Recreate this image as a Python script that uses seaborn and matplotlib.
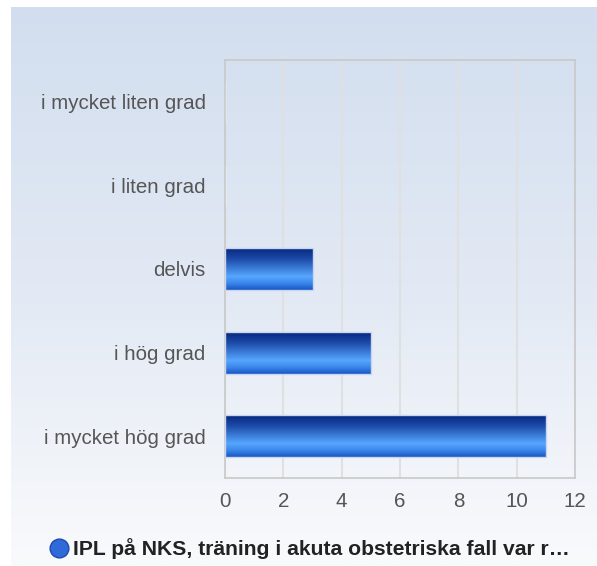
import numpy as np
import matplotlib
matplotlib.use('Agg')
import matplotlib.pyplot as plt
from matplotlib.colors import LinearSegmentedColormap
from matplotlib.lines import Line2D
import seaborn as sns

# data
categories = ['i mycket liten grad', 'i liten grad', 'delvis', 'i hög grad', 'i mycket hög grad']
counts = [0, 0, 3, 5, 11]
x_ticks = [0, 2, 4, 6, 8, 10, 12]
series_name = 'IPL på NKS, träning i akuta obstetriska fall var r…'

sns.set_theme(style='white')
plt.rcParams['font.family'] = ['Liberation Sans', 'DejaVu Sans']

W, H = 597, 566
fig = plt.figure(figsize=(W / 100, H / 100), dpi=100)

# background panel with vertical gradient
bg = fig.add_axes([11 / W, 0, 1 - 11 / W, 1 - 7 / H], zorder=0)
bg_cmap = LinearSegmentedColormap.from_list('bg', ['#d2deef', '#e2e9f4', '#f9fafc'])
bg.imshow(np.linspace(0, 1, 256).reshape(-1, 1), cmap=bg_cmap, aspect='auto',
          extent=[0, 1, 0, 1])
bg.set_axis_off()

ax = fig.add_axes([225 / W, 1 - 478 / H, (575 - 225) / W, (478 - 60) / H], zorder=1)
ax.patch.set_alpha(0)

sns.barplot(x=counts, y=categories, orient='h', width=0.5, ax=ax, color='#2a62d0')

bar_cmap = LinearSegmentedColormap.from_list(
    'bar', [(0, '#06287f'), (0.25, '#1c4aa8'), (0.68, '#56a6ff'), (0.85, '#3a85e8'), (1, '#1656c6')])
grad = np.linspace(0, 1, 128).reshape(-1, 1)
for p in ax.patches:
    if p.get_width() <= 0:
        continue
    x0, y0 = p.get_x(), p.get_y()
    ax.imshow(grad, cmap=bar_cmap, aspect='auto', zorder=2,
              extent=[x0, x0 + p.get_width(), y0 + p.get_height(), y0])
    p.set_facecolor('none')
    p.set_edgecolor('#c9d5ee')
    p.set_linewidth(1)
    p.set_zorder(3)

ax.set_xlim(0, 12)
ax.set_ylim(4.5, -0.5)
ax.set_xticks(x_ticks)
ax.set_xlabel('')
ax.set_ylabel('')
ax.grid(axis='x', color='#e0e0e0', linewidth=1.5)
ax.set_axisbelow(True)
for s in ax.spines.values():
    s.set_color('#c8c8c8')
    s.set_linewidth(1.2)
ax.tick_params(axis='both', length=0, labelsize=14.8, colors='#555555')
ax.tick_params(axis='x', pad=10)
ax.tick_params(axis='y', pad=14)

handle = Line2D([], [], linestyle='none', marker='o', markersize=13.5,
                markerfacecolor='#2f6ad8', markeredgecolor='#1a4ab0')
fig.legend([handle], [series_name], loc='center', bbox_to_anchor=(308 / W, 1 - 549 / H),
           frameon=False, handletextpad=0.1, handlelength=1.2, borderaxespad=0,
           prop={'weight': 'bold', 'size': 15.2}, labelcolor='#222222')

fig.savefig('out.png', dpi=100)
